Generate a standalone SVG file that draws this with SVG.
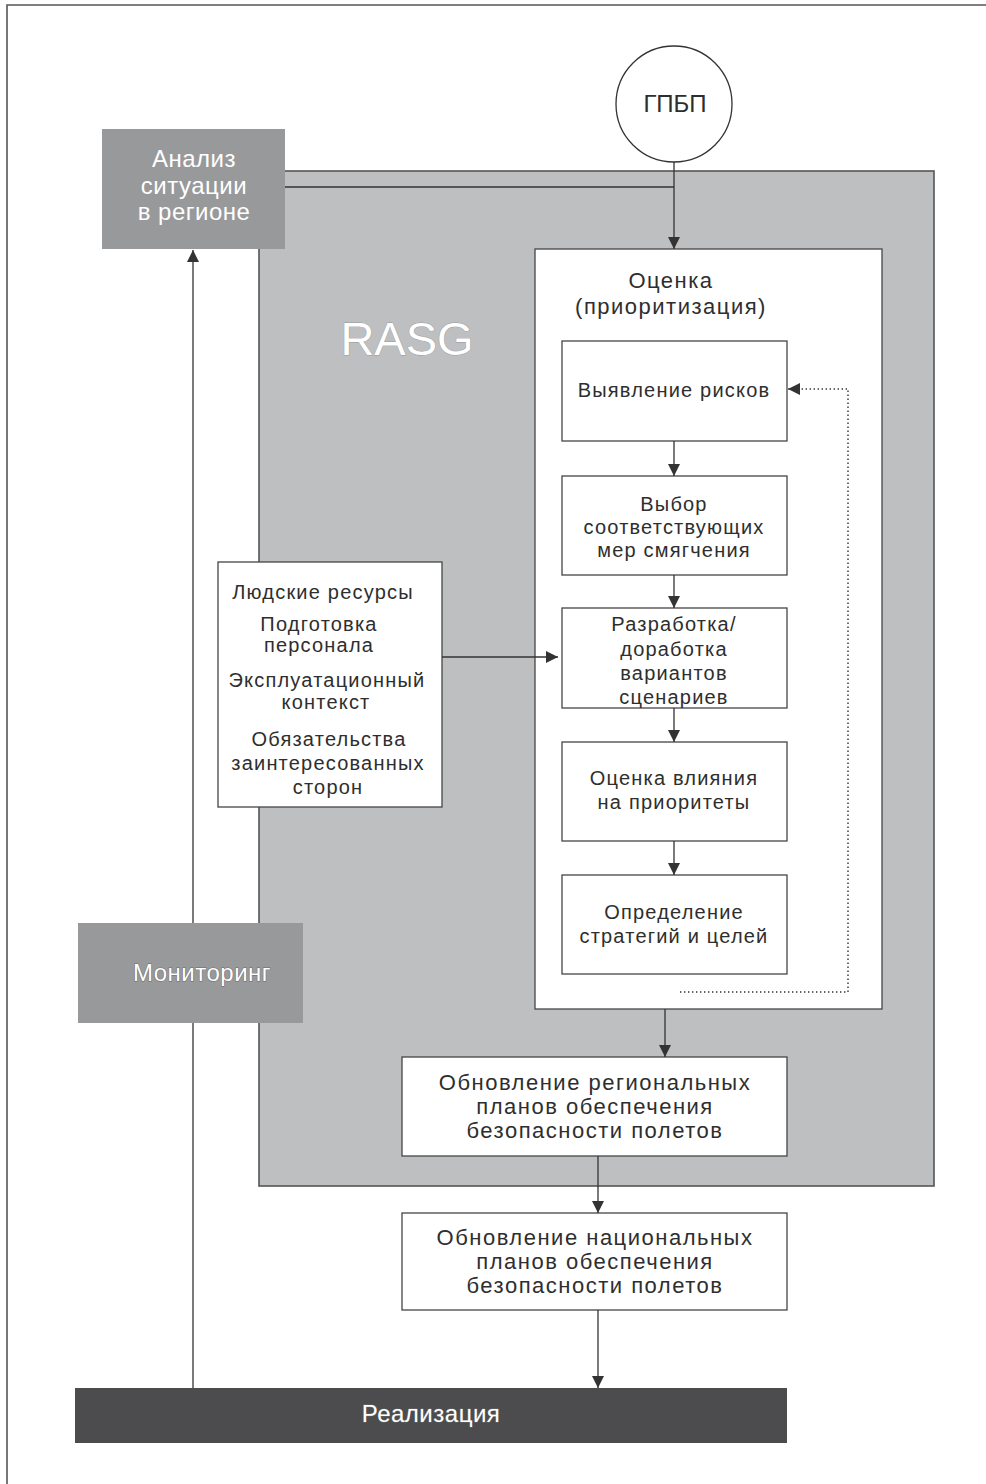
<svg xmlns="http://www.w3.org/2000/svg" width="986" height="1484" viewBox="0 0 986 1484">
<style>
text{font-family:"Liberation Sans",Arial,sans-serif;fill:#2e2e2e;text-anchor:middle}
.box{fill:#fff;stroke:#454545;stroke-width:1.3}
.t20{font-size:20px;letter-spacing:1.2px}
.t22{font-size:22px;letter-spacing:1.5px}
.wt{fill:#fff;font-size:24px;letter-spacing:0.5px}
.ol{fill:#fff;stroke:#6a6a6a;stroke-width:1px;paint-order:stroke}
.ln{fill:none;stroke:#333;stroke-width:1.3}
.dot{fill:none;stroke:#333;stroke-width:1.4;stroke-dasharray:1.4 2.6}
</style>
<defs>
<marker id="ah" markerUnits="userSpaceOnUse" markerWidth="13" markerHeight="13" refX="12" refY="6" orient="auto">
<path d="M0,0 L12,6 L0,12 z" fill="#333"/>
</marker>
</defs>
<rect width="986" height="1484" fill="#fff"/>
<path d="M7,1484 V5 H986" fill="none" stroke="#555" stroke-width="1.6"/>

<g id="rasg">
<rect x="259" y="171" width="675" height="1015" fill="#bebfc1" stroke="#555" stroke-width="1.6"/>
<text x="407" y="355" class="ol" style="font-size:47px;stroke:#999;stroke-width:0.8px">RASG</text>
</g>

<g id="analysis">
<rect x="102" y="129" width="183" height="120" fill="#98999b"/>
<text class="wt" x="194" y="167">Анализ</text>
<text class="wt" x="194" y="194">ситуации</text>
<text class="wt" x="194" y="220">в регионе</text>
</g>

<g id="gpbp">
<circle cx="674" cy="104" r="58" fill="#fff" stroke="#333" stroke-width="1.3"/>
<text x="675" y="112" style="font-size:24px">ГПБП</text>
</g>

<g id="assessment">
<rect class="box" x="535" y="249" width="347" height="760"/>
<text class="t22" x="671" y="288">Оценка</text>
<text class="t22" x="671" y="314">(приоритизация)</text>
</g>

<g id="identify">
<rect class="box" x="562" y="341" width="225" height="100"/>
<text class="t20" x="674" y="397">Выявление рисков</text>
</g>

<g id="select">
<rect class="box" x="562" y="476" width="225" height="99"/>
<text class="t20" x="674" y="511">Выбор</text>
<text class="t20" x="674" y="534">соответствующих</text>
<text class="t20" x="674" y="557">мер смягчения</text>
</g>

<g id="develop">
<rect class="box" x="562" y="608" width="225" height="100"/>
<text class="t20" x="674" y="631">Разработка/</text>
<text class="t20" x="674" y="656">доработка</text>
<text class="t20" x="674" y="680">вариантов</text>
<text class="t20" x="674" y="704">сценариев</text>
</g>

<g id="impact">
<rect class="box" x="562" y="742" width="225" height="99"/>
<text class="t20" x="674" y="785">Оценка влияния</text>
<text class="t20" x="674" y="809">на приоритеты</text>
</g>

<g id="strategy">
<rect class="box" x="562" y="875" width="225" height="99"/>
<text class="t20" x="674" y="919">Определение</text>
<text class="t20" x="674" y="943">стратегий и целей</text>
</g>

<g id="factors">
<rect class="box" x="218" y="562" width="224" height="245"/>
<text class="t20" x="323" y="599">Людские ресурсы</text>
<text class="t20" x="319" y="631">Подготовка</text>
<text class="t20" x="319" y="652">персонала</text>
<text class="t20" x="327" y="687">Эксплуатационный</text>
<text class="t20" x="326" y="709">контекст</text>
<text class="t20" x="329" y="746">Обязательства</text>
<text class="t20" x="328" y="770">заинтересованных</text>
<text class="t20" x="328" y="794">сторон</text>
</g>

<g id="regional">
<rect class="box" x="402" y="1057" width="385" height="99"/>
<text class="t22" x="595" y="1090">Обновление региональных</text>
<text class="t22" x="595" y="1114">планов обеспечения</text>
<text class="t22" x="595" y="1138">безопасности полетов</text>
</g>

<g id="national">
<rect class="box" x="402" y="1213" width="385" height="97"/>
<text class="t22" x="595" y="1245">Обновление национальных</text>
<text class="t22" x="595" y="1269">планов обеспечения</text>
<text class="t22" x="595" y="1293">безопасности полетов</text>
</g>

<g id="connectors">
<path class="ln" d="M285,187 H674"/>
<path class="ln" d="M674,162 V249" marker-end="url(#ah)"/>
<path class="ln" d="M674,441 V476" marker-end="url(#ah)"/>
<path class="ln" d="M674,575 V608" marker-end="url(#ah)"/>
<path class="ln" d="M674,708 V742" marker-end="url(#ah)"/>
<path class="ln" d="M674,841 V875" marker-end="url(#ah)"/>
<path class="dot" d="M680,992 H848 V389 H801"/>
<path class="ln" d="M800,389 H788" marker-end="url(#ah)"/>
<path class="ln" d="M442,657 H558" marker-end="url(#ah)"/>
<path class="ln" d="M665,1009 V1057" marker-end="url(#ah)"/>
<path class="ln" d="M598,1156 V1213" marker-end="url(#ah)"/>
<path class="ln" d="M598,1310 V1388" marker-end="url(#ah)"/>
<path class="ln" d="M193,1388 V250" marker-end="url(#ah)"/>
</g>

<g id="monitoring">
<rect x="78" y="923" width="225" height="100" fill="#98999b"/>
<text class="wt ol" x="202" y="981">Мониторинг</text>
</g>

<g id="implementation">
<rect x="75" y="1388" width="712" height="55" fill="#4c4c4e"/>
<text class="wt ol" x="431" y="1422">Реализация</text>
</g>
</svg>
